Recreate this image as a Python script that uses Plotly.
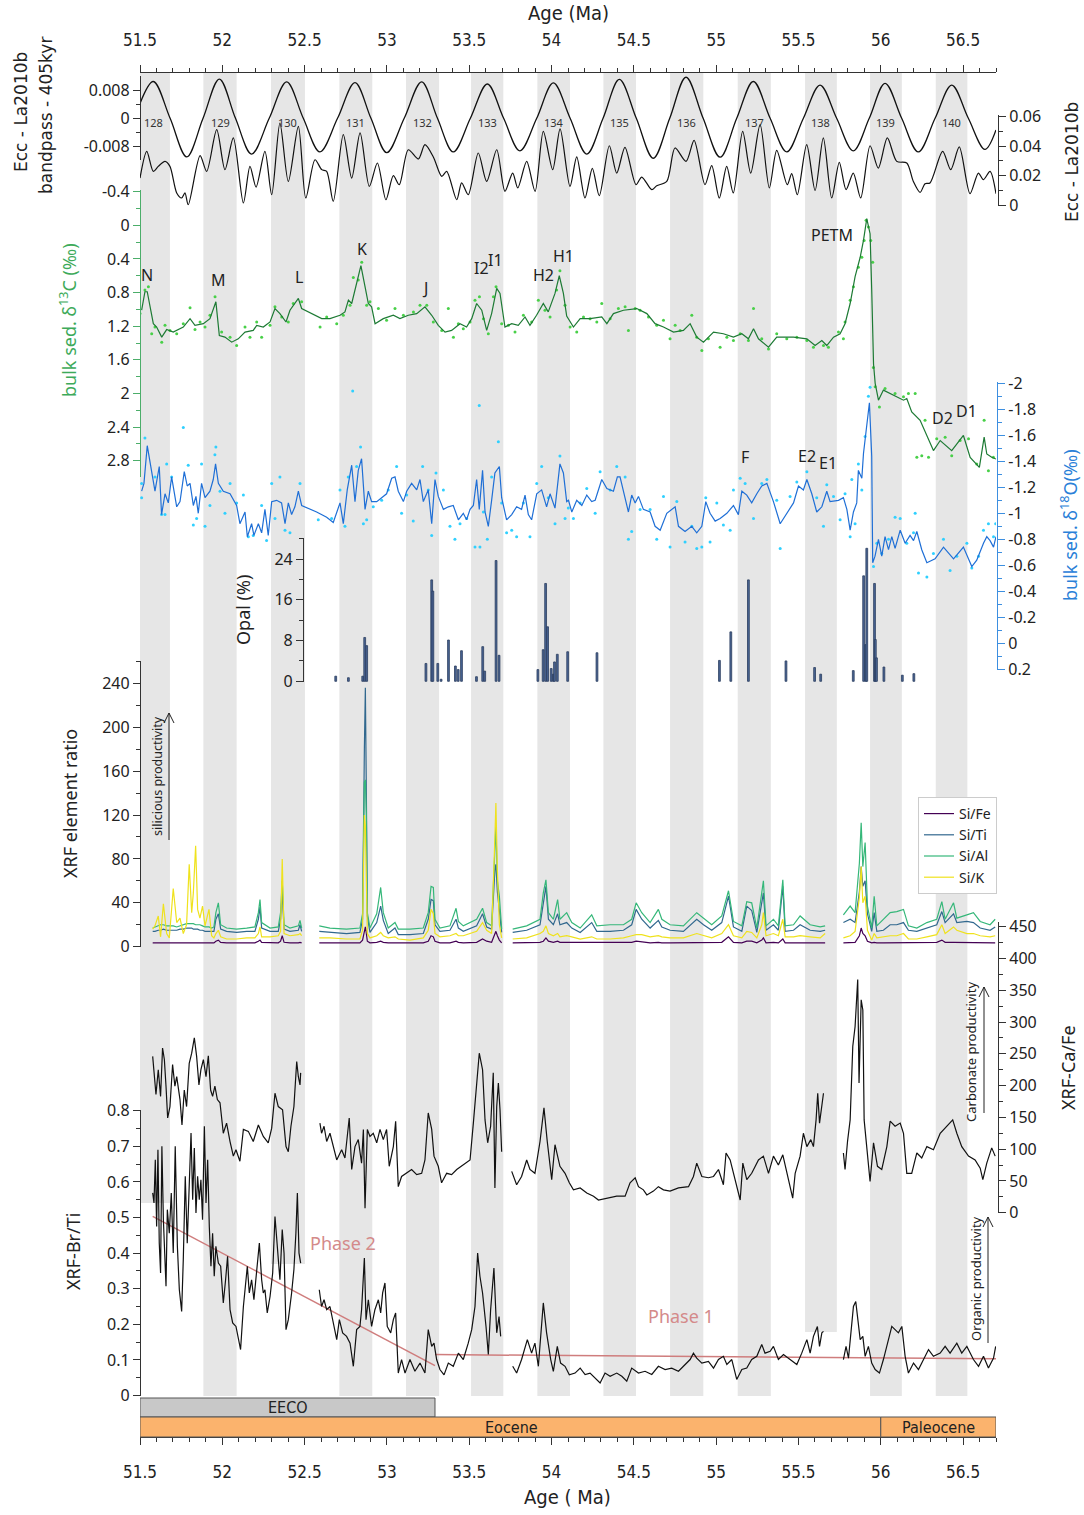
import plotly.graph_objects as go

W, H = 1084, 1515
SANS = "Noto Sans, Open Sans, DejaVu Sans, sans-serif"
NARROW = "Liberation Sans Narrow, Arial Narrow, DejaVu Sans Condensed, Roboto Condensed, Roboto, sans-serif"
WIDE = "DejaVu Sans, Verdana, sans-serif"

# ------------------------------------------------------------------ data
age_ticks = [51.5, 52, 52.5, 53, 53.5, 54, 54.5, 55, 55.5, 56, 56.5]
tick_text = ["51.5", "52", "52.5", "53", "53.5", "54", "54.5", "55", "55.5", "56", "56.5"]
bandpass_ticks = [-0.008, 0, 0.008]
bandpass_text = ["-0.008", "0", "0.008"]
d13c_ticks = [-0.4, 0, 0.4, 0.8, 1.2, 1.6, 2.0, 2.4, 2.8]
d13c_text = ["-0.4", "0", "0.4", "0.8", "1.2", "1.6", "2", "2.4", "2.8"]
d18o_ticks = [-2.0, -1.8, -1.6, -1.4, -1.2, -1.0, -0.8, -0.6, -0.4, -0.2, 0.0, 0.2]
d18o_text = ["-2", "-1.8", "-1.6", "-1.4", "-1.2", "-1", "-0.8", "-0.6", "-0.4", "-0.2", "0", "0.2"]

cycle_numbers = list(range(128, 141))
band_start = [51.500, 51.885, 52.296, 52.711, 53.116, 53.511, 53.914, 54.315, 54.720, 55.131, 55.540, 55.935, 56.334]
band_end = [51.682, 52.087, 52.502, 52.911, 53.317, 53.707, 54.112, 54.513, 54.922, 55.332, 55.733, 56.128, 56.526]

bandpass = [(51.500, 0.0042), (51.581, 0.0104), (51.683, 0.0), (51.784, -0.0109), (51.883, 0.0),
            (51.982, 0.0111), (52.080, 0.0), (52.178, -0.0101), (52.285, 0.0), (52.391, 0.0103),
            (52.492, 0.0), (52.593, -0.0095), (52.700, 0.0), (52.806, 0.0101), (52.903, 0.0),
            (52.999, -0.0097), (53.105, 0.0), (53.211, 0.0103), (53.307, 0.0), (53.403, -0.0095),
            (53.507, 0.0), (53.610, 0.0097), (53.709, 0.0), (53.808, -0.0092), (53.910, 0.0),
            (54.011, 0.0100), (54.113, 0.0), (54.214, -0.0101), (54.313, 0.0), (54.412, 0.0110),
            (54.515, 0.0), (54.618, -0.0113), (54.718, 0.0), (54.817, 0.0116), (54.921, 0.0),
            (55.024, -0.0110), (55.125, 0.0), (55.226, 0.0104), (55.328, 0.0), (55.429, -0.0095),
            (55.530, 0.0), (55.631, 0.0094), (55.732, 0.0), (55.833, -0.0092), (55.930, 0.0),
            (56.026, 0.0099), (56.127, 0.0), (56.228, -0.0095), (56.330, 0.0), (56.431, 0.0094),
            (56.532, 0.0), (56.633, -0.0088), (56.700, -0.0033)]

ecc = [(51.500, 0.0184), (51.541, 0.0365), (51.581, 0.0229), (51.611, 0.0263), (51.652, 0.0297),
       (51.682, 0.0263), (51.723, 0.0083), (51.753, 0.0049), (51.773, 0.0083), (51.793, 0.0003),
       (51.865, 0.0336), (51.905, 0.0229), (51.966, 0.0512), (52.016, 0.0241), (52.067, 0.0456),
       (52.128, 0.0015), (52.168, 0.0263), (52.205, 0.0123), (52.259, 0.0365), (52.300, 0.0071),
       (52.350, 0.0557), (52.401, 0.0161), (52.462, 0.0534), (52.507, 0.0049), (52.563, 0.0308),
       (52.604, 0.0241), (52.634, 0.0229), (52.674, 0.0026), (52.735, 0.0478), (52.786, 0.0184),
       (52.837, 0.0490), (52.893, 0.0127), (52.942, 0.0286), (52.994, 0.0037), (53.039, 0.0200),
       (53.075, 0.0139), (53.130, 0.0376), (53.191, 0.0313), (53.231, 0.0410), (53.282, 0.0327),
       (53.333, 0.0195), (53.363, 0.0229), (53.424, 0.0037), (53.454, 0.0151), (53.494, 0.0071),
       (53.555, 0.0354), (53.606, 0.0161), (53.667, 0.0376), (53.717, 0.0094), (53.764, 0.0218),
       (53.795, 0.0117), (53.849, 0.0297), (53.900, 0.0094), (53.950, 0.0500), (54.007, 0.0241),
       (54.052, 0.0517), (54.112, 0.0127), (54.153, 0.0327), (54.203, 0.0049), (54.248, 0.0250),
       (54.290, 0.0064), (54.351, 0.0403), (54.396, 0.0218), (54.446, 0.0392), (54.513, 0.0139),
       (54.548, 0.0191), (54.609, 0.0105), (54.639, 0.0132), (54.700, 0.0161), (54.750, 0.0388),
       (54.817, 0.0297), (54.866, 0.0439), (54.932, 0.0139), (54.973, 0.0268), (55.019, 0.0049),
       (55.064, 0.0263), (55.104, 0.0083), (55.161, 0.0500), (55.210, 0.0218), (55.267, 0.0546),
       (55.323, 0.0117), (55.368, 0.0372), (55.432, 0.0139), (55.459, 0.0214), (55.493, 0.0071),
       (55.550, 0.0410), (55.601, 0.0100), (55.651, 0.0456), (55.702, 0.0049), (55.748, 0.0290),
       (55.789, 0.0105), (55.833, 0.0218), (55.878, 0.0049), (55.935, 0.0403), (55.985, 0.0252),
       (56.040, 0.0456), (56.097, 0.0297), (56.158, 0.0286), (56.198, 0.0161), (56.239, 0.0087),
       (56.269, 0.0146), (56.299, 0.0151), (56.376, 0.0365), (56.425, 0.0241), (56.477, 0.0395),
       (56.542, 0.0078), (56.593, 0.0218), (56.623, 0.0173), (56.664, 0.0229), (56.700, 0.0078)]

d13c_line = [(51.510, 1.01), (51.530, 0.79), (51.544, 0.79), (51.581, 1.17), (51.601, 1.21), (51.632, 1.33),
             (51.662, 1.24), (51.702, 1.27), (51.763, 1.21), (51.804, 1.11), (51.834, 1.19), (51.885, 1.17),
             (51.925, 1.11), (51.961, 0.91), (51.982, 1.31), (52.016, 1.33), (52.057, 1.39), (52.097, 1.35),
             (52.138, 1.27), (52.188, 1.25), (52.209, 1.19), (52.249, 1.21), (52.290, 1.15), (52.320, 0.99),
             (52.350, 1.05), (52.387, 1.15), (52.411, 1.01), (52.462, 0.87), (52.482, 0.99), (52.604, 1.11),
             (52.654, 1.11), (52.715, 1.07), (52.745, 1.03), (52.766, 0.89), (52.786, 0.93), (52.816, 0.69),
             (52.842, 0.48), (52.867, 0.73), (52.887, 0.93), (52.907, 0.97), (52.928, 1.17), (52.978, 1.11),
             (53.039, 1.07), (53.079, 1.11), (53.130, 1.07), (53.181, 1.05), (53.231, 0.97), (53.272, 1.07),
             (53.312, 1.19), (53.353, 1.27), (53.393, 1.25), (53.444, 1.17), (53.484, 1.21), (53.515, 1.11),
             (53.545, 0.93), (53.576, 1.01), (53.606, 1.25), (53.636, 1.05), (53.667, 0.75), (53.687, 0.81),
             (53.717, 1.21), (53.758, 1.17), (53.798, 1.19), (53.839, 1.09), (53.869, 1.19), (53.909, 1.07),
             (53.950, 0.93), (53.980, 1.03), (54.021, 0.81), (54.047, 0.60), (54.072, 0.81), (54.092, 1.08),
             (54.133, 1.21), (54.174, 1.11), (54.234, 1.11), (54.305, 1.09), (54.336, 1.17), (54.376, 1.05),
             (54.437, 1.01), (54.518, 0.99), (54.579, 1.05), (54.629, 1.17), (54.680, 1.21), (54.741, 1.27),
             (54.801, 1.25), (54.842, 1.17), (54.882, 1.33), (54.923, 1.39), (54.984, 1.27), (55.044, 1.29),
             (55.105, 1.33), (55.156, 1.29), (55.196, 1.35), (55.227, 1.23), (55.257, 1.35), (55.318, 1.45),
             (55.368, 1.33), (55.470, 1.33), (55.551, 1.35), (55.601, 1.43), (55.642, 1.37), (55.672, 1.43),
             (55.713, 1.33), (55.753, 1.29), (55.783, 1.17), (55.814, 0.93), (55.844, 0.61), (55.875, 0.38),
             (55.895, 0.18), (55.915, -0.08), (55.935, 0.10), (55.945, 0.77), (55.956, 1.65), (55.966, 1.88),
             (55.986, 2.08), (56.016, 1.96), (56.057, 2.00), (56.097, 2.04), (56.138, 2.08), (56.158, 2.06),
             (56.188, 2.22), (56.239, 2.32), (56.280, 2.50), (56.320, 2.68), (56.361, 2.56), (56.431, 2.68),
             (56.502, 2.50), (56.543, 2.76), (56.599, 2.88), (56.628, 2.52), (56.644, 2.72), (56.674, 2.76),
             (56.700, 2.78)]

d13c_dots = [(51.500, 1.05), (51.530, 0.77), (51.551, 0.73), (51.571, 1.29), (51.591, 1.21), (51.632, 1.39),
             (51.652, 1.19), (51.682, 1.25), (51.723, 1.29), (51.763, 1.17), (51.804, 0.98), (51.834, 1.24),
             (51.865, 1.15), (51.895, 1.21), (51.925, 1.07), (51.956, 0.85), (51.996, 1.27), (52.047, 1.33),
             (52.087, 1.43), (52.138, 1.21), (52.168, 1.33), (52.209, 1.15), (52.239, 1.33), (52.290, 1.19),
             (52.320, 0.97), (52.361, 1.09), (52.401, 1.15), (52.431, 0.93), (52.482, 0.91), (52.594, 1.21),
             (52.634, 1.09), (52.695, 1.17), (52.735, 1.07), (52.776, 0.95), (52.796, 0.62), (52.826, 0.65),
             (52.847, 0.44), (52.877, 0.95), (52.897, 0.91), (52.948, 0.99), (52.998, 1.13), (53.049, 0.99),
             (53.100, 1.07), (53.161, 1.03), (53.201, 0.95), (53.242, 0.95), (53.282, 1.15), (53.333, 1.25),
             (53.373, 0.99), (53.404, 1.33), (53.434, 1.17), (53.464, 1.23), (53.505, 1.15), (53.535, 0.89),
             (53.562, 0.85), (53.586, 1.11), (53.616, 1.29), (53.647, 0.85), (53.663, 0.73), (53.697, 1.17),
             (53.738, 1.19), (53.778, 1.27), (53.829, 1.07), (53.879, 1.15), (53.920, 0.89), (53.960, 1.01),
             (53.991, 1.09), (54.031, 0.77), (54.051, 0.54), (54.082, 0.95), (54.113, 1.21), (54.153, 1.27),
             (54.194, 1.09), (54.234, 1.11), (54.275, 1.15), (54.305, 0.93), (54.356, 1.11), (54.406, 0.99),
             (54.447, 0.97), (54.467, 1.25), (54.508, 0.99), (54.538, 1.01), (54.589, 1.09), (54.639, 1.19),
             (54.680, 1.13), (54.720, 1.35), (54.751, 1.19), (54.781, 1.25), (54.852, 1.07), (54.882, 1.33),
             (54.913, 1.49), (54.953, 1.35), (55.024, 1.45), (55.065, 1.33), (55.105, 1.37), (55.146, 1.29),
             (55.196, 1.37), (55.227, 0.99), (55.277, 1.35), (55.318, 1.47), (55.368, 1.29), (55.429, 1.35),
             (55.490, 1.33), (55.551, 1.37), (55.591, 1.45), (55.652, 1.43), (55.682, 1.45), (55.743, 1.27),
             (55.773, 1.35), (55.783, 1.15), (55.814, 0.89), (55.834, 0.73), (55.864, 0.50), (55.885, 0.38),
             (55.899, 0.18), (55.911, -0.06), (55.925, 0.02), (55.939, 0.18), (55.951, 0.44), (55.955, 1.69),
             (55.966, 1.92), (55.992, 2.16), (56.026, 1.94), (56.087, 2.00), (56.138, 2.04), (56.168, 2.00),
             (56.209, 2.00), (56.219, 2.76), (56.249, 2.74), (56.269, 2.32), (56.290, 2.76), (56.340, 2.54),
             (56.391, 2.52), (56.431, 2.74), (56.482, 2.56), (56.533, 2.54), (56.583, 2.84), (56.628, 2.32),
             (56.654, 2.92), (56.684, 2.76)]

d18o_line = [(51.510, -1.17), (51.524, -1.23), (51.544, -1.52), (51.571, -1.31), (51.591, -1.17), (51.617, -1.36),
             (51.631, -0.99), (51.652, -1.15), (51.672, -1.08), (51.692, -1.28), (51.723, -1.05), (51.743, -1.09),
             (51.769, -1.32), (51.787, -1.21), (51.804, -1.23), (51.824, -1.06), (51.840, -1.13), (51.854, -1.00),
             (51.874, -1.23), (51.895, -1.12), (51.925, -1.17), (51.945, -1.26), (51.959, -1.38), (51.976, -1.23),
             (52.006, -1.17), (52.047, -1.15), (52.087, -1.06), (52.107, -0.92), (52.138, -1.01), (52.152, -0.82),
             (52.178, -0.92), (52.192, -0.83), (52.219, -0.92), (52.239, -0.85), (52.259, -1.03), (52.279, -0.83),
             (52.300, -1.09), (52.330, -1.10), (52.360, -1.08), (52.381, -0.92), (52.401, -1.08), (52.421, -0.99),
             (52.441, -1.05), (52.462, -1.17), (52.482, -1.06), (52.573, -1.01), (52.634, -0.97), (52.674, -0.93),
             (52.715, -1.08), (52.735, -0.92), (52.759, -1.18), (52.786, -1.37), (52.806, -1.09), (52.826, -1.33),
             (52.846, -1.42), (52.867, -1.03), (52.887, -1.17), (52.907, -1.09), (52.938, -1.09), (52.968, -1.12),
             (52.998, -1.15), (53.029, -1.27), (53.049, -1.28), (53.069, -1.17), (53.100, -1.09), (53.120, -1.17),
             (53.150, -1.23), (53.181, -1.18), (53.201, -1.26), (53.221, -1.09), (53.251, -1.18), (53.272, -0.92),
             (53.292, -1.26), (53.312, -1.13), (53.343, -1.03), (53.373, -1.05), (53.403, -1.06), (53.434, -0.95),
             (53.464, -1.00), (53.484, -0.95), (53.505, -1.03), (53.525, -1.06), (53.545, -1.26), (53.561, -1.03),
             (53.581, -1.33), (53.596, -1.01), (53.616, -0.90), (53.636, -1.10), (53.656, -1.31), (53.683, -1.36),
             (53.697, -1.12), (53.727, -0.95), (53.758, -0.99), (53.788, -1.05), (53.818, -1.03), (53.839, -1.14),
             (53.859, -0.99), (53.879, -0.95), (53.910, -1.15), (53.940, -1.18), (53.970, -1.05), (53.991, -1.15),
             (54.021, -1.04), (54.051, -1.38), (54.072, -1.31), (54.092, -1.09), (54.103, -1.10), (54.123, -1.01),
             (54.153, -1.10), (54.184, -1.06), (54.214, -1.14), (54.244, -1.09), (54.265, -1.10), (54.305, -1.26),
             (54.336, -1.19), (54.376, -1.17), (54.400, -1.28), (54.416, -1.28), (54.437, -1.17), (54.467, -1.01),
             (54.487, -1.14), (54.508, -1.08), (54.528, -1.13), (54.558, -1.03), (54.599, -1.01), (54.629, -0.90),
             (54.660, -0.87), (54.700, -1.00), (54.751, -1.05), (54.771, -0.90), (54.811, -0.86), (54.852, -0.90),
             (54.882, -0.85), (54.913, -0.90), (54.937, -1.09), (54.963, -1.00), (54.994, -0.94), (55.024, -0.96),
             (55.065, -1.00), (55.105, -1.06), (55.135, -0.99), (55.156, -1.17), (55.186, -1.14), (55.216, -1.08),
             (55.247, -1.15), (55.277, -1.21), (55.308, -1.23), (55.348, -1.09), (55.389, -0.92), (55.429, -1.00),
             (55.470, -1.08), (55.500, -1.21), (55.530, -1.18), (55.551, -1.26), (55.581, -1.15), (55.611, -1.01),
             (55.642, -1.05), (55.672, -1.17), (55.692, -1.09), (55.743, -1.10), (55.773, -1.12), (55.794, -1.03),
             (55.814, -0.87), (55.834, -1.01), (55.854, -1.08), (55.864, -1.33), (55.885, -1.27), (55.895, -1.46),
             (55.915, -1.67), (55.931, -1.85), (55.945, -1.44), (55.951, -0.62), (55.965, -0.67), (55.986, -0.80),
             (56.006, -0.67), (56.026, -0.82), (56.047, -0.72), (56.067, -0.82), (56.087, -0.73), (56.118, -0.87),
             (56.148, -0.77), (56.178, -0.83), (56.199, -0.79), (56.219, -0.86), (56.249, -0.72), (56.280, -0.62),
             (56.330, -0.65), (56.381, -0.74), (56.442, -0.65), (56.502, -0.74), (56.553, -0.59), (56.583, -0.64),
             (56.624, -0.77), (56.644, -0.82), (56.664, -0.79), (56.685, -0.74), (56.700, -0.82)]

d18o_dots = [(51.510, -1.23), (51.510, -1.12), (51.530, -1.58), (51.591, -1.28), (51.631, -0.99), (51.652, -0.99),
             (51.662, -1.38), (51.692, -1.28), (51.763, -1.66), (51.793, -1.37), (51.824, -0.91), (51.844, -0.96),
             (51.874, -1.38), (51.895, -0.90), (51.925, -1.06), (51.955, -1.45), (51.961, -1.51), (51.986, -1.17),
             (52.016, -1.00), (52.047, -1.23), (52.087, -1.08), (52.128, -1.14), (52.158, -0.82), (52.188, -0.83),
             (52.239, -1.06), (52.269, -0.79), (52.300, -1.23), (52.320, -0.96), (52.350, -1.28), (52.381, -0.87),
             (52.411, -0.85), (52.472, -1.23), (52.583, -0.95), (52.664, -0.96), (52.715, -1.18), (52.745, -0.90),
             (52.765, -1.28), (52.792, -1.94), (52.816, -1.36), (52.840, -1.51), (52.857, -0.92), (52.877, -0.95),
             (52.917, -1.05), (52.968, -1.10), (53.008, -1.18), (53.059, -1.36), (53.089, -1.00), (53.120, -1.14),
             (53.160, -0.94), (53.217, -1.36), (53.251, -1.18), (53.272, -0.83), (53.298, -1.31), (53.343, -1.18),
             (53.383, -0.90), (53.413, -0.80), (53.444, -0.92), (53.484, -0.96), (53.535, -0.74), (53.561, -1.83),
             (53.565, -0.74), (53.586, -1.01), (53.610, -0.80), (53.636, -1.28), (53.677, -1.55), (53.697, -1.08),
             (53.727, -0.85), (53.758, -0.87), (53.788, -0.82), (53.829, -1.08), (53.869, -0.82), (53.910, -1.23),
             (53.940, -1.36), (53.980, -1.12), (54.021, -0.92), (54.051, -1.44), (54.082, -0.96), (54.102, -1.04),
             (54.133, -0.96), (54.174, -1.08), (54.214, -1.19), (54.265, -1.00), (54.295, -1.32), (54.356, -1.18),
             (54.396, -1.36), (54.447, -1.28), (54.467, -0.80), (54.487, -0.86), (54.538, -1.03), (54.599, -1.03),
             (54.639, -0.80), (54.680, -1.13), (54.720, -0.74), (54.761, -1.09), (54.811, -0.78), (54.852, -0.90),
             (54.882, -0.73), (54.913, -0.74), (54.937, -1.12), (54.963, -0.78), (55.004, -1.08), (55.044, -0.91),
             (55.085, -0.87), (55.105, -1.18), (55.146, -1.27), (55.176, -1.23), (55.227, -0.96), (55.277, -1.23),
             (55.308, -1.26), (55.368, -1.10), (55.389, -0.73), (55.449, -1.13), (55.490, -1.24), (55.551, -1.32),
             (55.611, -1.12), (55.652, -0.90), (55.672, -1.22), (55.713, -1.13), (55.753, -0.95), (55.783, -1.15),
             (55.814, -0.82), (55.824, -1.26), (55.844, -0.92), (55.864, -1.38), (55.885, -1.18), (55.905, -1.59),
             (55.925, -1.90), (55.935, -1.97), (55.956, -0.59), (55.976, -0.77), (56.006, -0.69), (56.047, -0.80),
             (56.087, -0.97), (56.118, -0.96), (56.158, -0.77), (56.199, -0.85), (56.209, -1.00), (56.229, -0.54),
             (56.280, -0.51), (56.320, -0.69), (56.381, -0.80), (56.421, -0.56), (56.462, -0.67), (56.523, -0.77),
             (56.553, -0.58), (56.594, -0.67), (56.624, -0.87), (56.654, -0.92), (56.685, -0.82), (56.698, -0.92)]

opal = [(52.689, 1.0), (52.766, 0.7), (52.853, 1.0), (52.865, 8.6), (52.877, 7.0), (53.237, 3.5),
        (53.272, 19.9), (53.279, 17.7), (53.309, 3.5), (53.329, 0.4), (53.374, 8.1), (53.416, 3.0),
        (53.433, 2.3), (53.453, 6.0), (53.544, 0.9), (53.582, 6.8), (53.594, 2.0), (53.663, 23.7),
        (53.681, 5.1), (53.917, 2.3), (53.949, 6.2), (53.964, 19.2), (53.976, 10.7), (53.998, 2.5),
        (54.011, 1.4), (54.018, 3.8), (54.035, 5.3), (54.098, 5.8), (54.276, 5.6), (55.020, 4.1),
        (55.089, 9.7), (55.196, 19.9), (55.424, 4.0), (55.598, 2.7), (55.635, 1.4), (55.833, 2.1),
        (55.896, 20.7), (55.908, 7.2), (55.915, 26.1), (55.962, 19.2), (55.967, 8.2), (55.974, 4.6),
        (56.019, 2.8), (56.131, 1.2), (56.201, 1.5)]

# XRF element ratios: (age, Si/Fe, Si/Ti, Si/Al, Si/K); None rows are core gaps
xrf = [(51.577, 3.5, 14, 17, 16), (51.591, 3.5, 14, 18, 19), (51.611, 3.5, 15, 19, 28), (51.625, 3.5, 15, 20, 9),
       (51.642, 3.5, 16, 20, 39), (51.662, 3.5, 15, 19, 12), (51.678, 3.5, 15, 19, 8), (51.702, 3.5, 15, 19, 53),
       (51.723, 3.5, 15, 18, 22), (51.743, 3.5, 16, 19, 26), (51.763, 3.5, 16, 20, 12), (51.783, 3.5, 17, 21, 20),
       (51.799, 3.5, 17, 21, 75), (51.814, 3.5, 17, 21, 31), (51.824, 3.5, 16, 21, 49), (51.838, 3.5, 16, 20, 92),
       (51.850, 3.5, 16, 20, 34), (51.864, 3.5, 15, 20, 26), (51.880, 3.5, 15, 19, 37), (51.895, 3.5, 14, 18, 19),
       (51.919, 3.5, 14, 18, 34), (51.935, 3.5, 14, 17, 10), (51.949, 3.5, 14, 18, 8), (51.961, 5, 25, 31, 12),
       (51.976, 6, 30, 40, 15), (51.990, 4, 16, 20, 9), (52.026, 3.5, 14, 17, 7), (52.087, 3.5, 13, 16, 7),
       (52.148, 3.5, 14, 17, 8), (52.198, 3.5, 14, 18, 8), (52.219, 5, 25, 31, 12), (52.229, 6, 36, 43, 18),
       (52.239, 4, 17, 22, 9), (52.290, 3.5, 14, 17, 9), (52.340, 3.5, 14, 18, 10), (52.354, 5, 25, 31, 14),
       (52.364, 10, 50, 60, 80), (52.375, 4, 16, 20, 12), (52.411, 3.5, 14, 17, 10), (52.462, 3.5, 15, 19, 11),
       (52.472, 4, 20, 24, 12), (52.482, 3.5, 14, 17, 10),
       None,
       (52.589, 3.5, 14, 19, 8), (52.654, 3.5, 13, 17, 8), (52.755, 3.5, 12, 16, 7), (52.836, 3.5, 13, 17, 7),
       (52.852, 6, 25, 30, 15), (52.863, 15, 180, 150, 120), (52.869, 18, 236, 152, 110), (52.875, 12, 140, 120, 60),
       (52.881, 5, 28, 31, 12), (52.897, 3.5, 13, 17, 8), (52.938, 4, 22, 30, 10), (52.962, 5, 37, 54, 13),
       (52.978, 4, 24, 31, 10), (53.008, 3.5, 12, 17, 8), (53.049, 3.5, 17, 22, 9), (53.069, 3.5, 11, 16, 7),
       (53.140, 3.5, 11, 16, 6), (53.221, 3.5, 12, 17, 8), (53.251, 5, 25, 31, 15), (53.268, 10, 43, 55, 34),
       (53.282, 9, 42, 54, 30), (53.292, 5, 20, 25, 12), (53.322, 3.5, 14, 17, 9), (53.383, 3.5, 15, 19, 10),
       (53.420, 5, 25, 35, 12), (53.434, 4, 17, 23, 10), (53.464, 3.5, 14, 19, 10), (53.545, 4, 19, 25, 14),
       (53.581, 7, 30, 35, 22), (53.606, 5, 18, 22, 15), (53.636, 4, 16, 19, 12), (53.656, 12, 70, 98, 100),
       (53.662, 14, 75, 110, 131), (53.671, 10, 50, 60, 70), (53.683, 6, 35, 46, 20), (53.697, 3.5, 13, 16, 8),
       None,
       (53.764, 3.5, 13, 16, 7), (53.849, 3.5, 15, 19, 8), (53.930, 4, 20, 25, 12), (53.950, 5, 40, 49, 14),
       (53.966, 8, 55, 61, 19), (53.981, 5, 25, 31, 12), (54.011, 4, 20, 25, 10), (54.037, 5, 30, 43, 12),
       (54.051, 4, 20, 25, 9), (54.092, 4, 22, 31, 10), (54.123, 4, 17, 22, 9), (54.174, 3.5, 13, 17, 7),
       (54.244, 4, 22, 29, 9), (54.275, 3.5, 14, 19, 7), (54.356, 3.5, 14, 20, 7), (54.437, 3.5, 15, 20, 8),
       (54.487, 4, 20, 25, 10), (54.514, 5, 34, 40, 11), (54.548, 4.5, 25, 31, 11), (54.599, 3.5, 17, 22, 9),
       (54.649, 4, 24, 34, 10), (54.670, 3.5, 18, 25, 9), (54.720, 3.5, 15, 20, 8), (54.801, 3.5, 14, 19, 8),
       (54.882, 4, 25, 31, 12), (54.923, 4, 20, 26, 10), (54.973, 3.5, 15, 20, 8), (55.034, 4, 22, 28, 12),
       (55.075, 9, 46, 51, 20), (55.105, 4, 18, 23, 10), (55.156, 3.5, 14, 19, 8), (55.186, 5, 37, 41, 14),
       (55.216, 5, 33, 40, 13), (55.247, 3.5, 13, 17, 8), (55.277, 6, 40, 49, 20), (55.287, 8, 49, 60, 31),
       (55.303, 3.5, 15, 19, 10), (55.348, 4, 20, 25, 12), (55.378, 3.5, 15, 19, 10), (55.405, 7, 55, 61, 25),
       (55.419, 3.5, 14, 19, 9), (55.470, 3.5, 15, 20, 9), (55.510, 4, 20, 28, 10), (55.571, 3.5, 15, 20, 9),
       (55.632, 3.5, 14, 18, 8), (55.662, 3.5, 15, 19, 12),
       None,
       (55.773, 3.5, 22, 29, 8), (55.814, 4, 25, 37, 10), (55.844, 4, 22, 31, 14), (55.870, 10, 50, 76, 45),
       (55.881, 17, 73, 113, 73), (55.891, 12, 55, 73, 40), (55.905, 10, 60, 95, 46), (55.919, 5, 30, 37, 15),
       (55.945, 3.5, 14, 17, 6), (55.960, 4, 31, 46, 12), (55.976, 3.5, 14, 19, 8), (56.016, 3.5, 15, 25, 9),
       (56.057, 3.5, 20, 31, 10), (56.097, 3.5, 20, 32, 10), (56.138, 4, 22, 34, 12), (56.168, 3.5, 15, 19, 7),
       (56.219, 3.5, 14, 17, 7), (56.280, 3.5, 17, 22, 9), (56.340, 4, 20, 25, 11), (56.371, 6, 32, 41, 20),
       (56.391, 4, 22, 25, 12), (56.442, 4, 30, 40, 18), (56.462, 4, 22, 26, 15), (56.523, 4, 23, 29, 12),
       (56.563, 4, 22, 31, 12), (56.604, 3.5, 17, 23, 10), (56.664, 3.5, 15, 20, 9), (56.695, 3.5, 18, 25, 10)]

cafe = [(51.577, 246), (51.585, 225), (51.597, 186), (51.611, 225), (51.625, 183), (51.637, 259), (51.648, 241),
        (51.658, 199), (51.668, 149), (51.682, 167), (51.698, 233), (51.712, 199), (51.723, 214), (51.743, 178),
        (51.755, 138), (51.769, 193), (51.783, 167), (51.799, 235), (51.814, 251), (51.830, 275), (51.844, 246),
        (51.858, 201), (51.870, 225), (51.885, 241), (51.901, 214), (51.915, 247), (51.929, 193), (51.941, 183),
        (51.955, 199), (51.970, 178), (51.986, 173), (52.006, 125), (52.026, 141), (52.047, 112), (52.067, 89),
        (52.083, 99), (52.107, 81), (52.128, 131), (52.158, 128), (52.188, 112), (52.219, 138), (52.249, 120),
        (52.279, 110), (52.300, 133), (52.320, 188), (52.340, 167), (52.366, 162), (52.387, 104), (52.401, 96),
        (52.417, 136), (52.435, 167), (52.452, 238), (52.462, 214), (52.472, 201), (52.476, 220),
        None,
        (52.593, 141), (52.603, 125), (52.618, 136), (52.634, 112), (52.654, 125), (52.674, 104), (52.695, 83),
        (52.725, 99), (52.745, 86), (52.771, 149), (52.786, 68), (52.806, 104), (52.826, 115), (52.846, 78),
        (52.857, 131), (52.867, 7), (52.881, 131), (52.897, 120), (52.917, 125), (52.938, 110), (52.958, 131),
        (52.978, 115), (52.998, 131), (53.014, 73), (53.039, 104), (53.053, 144), (53.069, 41), (53.089, 57),
        (53.120, 62), (53.150, 68), (53.181, 60), (53.211, 62), (53.231, 83), (53.251, 157), (53.272, 131),
        (53.286, 89), (53.312, 73), (53.332, 47), (53.363, 62), (53.393, 60), (53.424, 68), (53.464, 75),
        (53.505, 83), (53.525, 141), (53.545, 204), (53.561, 251), (53.581, 225), (53.596, 146), (53.612, 110),
        (53.630, 136), (53.646, 220), (53.656, 39), (53.667, 167), (53.677, 204), (53.687, 162), (53.697, 96),
        None,
        (53.758, 65), (53.788, 44), (53.818, 57), (53.849, 83), (53.869, 68), (53.899, 62), (53.930, 112),
        (53.954, 165), (53.974, 112), (54.001, 52), (54.021, 107), (54.051, 73), (54.082, 62), (54.108, 47),
        (54.133, 36), (54.174, 39), (54.214, 31), (54.255, 26), (54.285, 20), (54.336, 23), (54.396, 26),
        (54.447, 26), (54.477, 47), (54.508, 55), (54.528, 41), (54.558, 36), (54.579, 28), (54.619, 34),
        (54.649, 41), (54.680, 36), (54.720, 34), (54.771, 39), (54.832, 41), (54.862, 57), (54.882, 78),
        (54.913, 57), (54.953, 55), (54.984, 57), (55.014, 68), (55.044, 44), (55.060, 94), (55.085, 83),
        (55.115, 52), (55.146, 20), (55.162, 78), (55.186, 52), (55.216, 62), (55.257, 83), (55.287, 89),
        (55.318, 62), (55.348, 89), (55.378, 75), (55.405, 91), (55.429, 62), (55.465, 23), (55.480, 62),
        (55.510, 89), (55.530, 125), (55.551, 104), (55.575, 115), (55.591, 104), (55.607, 146), (55.617, 188),
        (55.628, 141), (55.638, 159), (55.652, 188),
        None,
        (55.773, 94), (55.783, 68), (55.798, 112), (55.814, 146), (55.830, 262), (55.844, 293), (55.860, 367),
        (55.868, 204), (55.881, 335), (55.891, 319), (55.899, 146), (55.915, 104), (55.935, 49), (55.956, 110),
        (55.980, 73), (56.006, 68), (56.037, 104), (56.057, 144), (56.087, 136), (56.118, 141), (56.138, 125),
        (56.158, 62), (56.188, 62), (56.219, 94), (56.249, 86), (56.280, 104), (56.320, 99), (56.361, 125),
        (56.401, 136), (56.437, 146), (56.462, 125), (56.492, 104), (56.533, 89), (56.573, 83), (56.604, 70),
        (56.620, 52), (56.644, 78), (56.674, 102), (56.695, 89)]

brti = [(51.577, 0.569), (51.585, 0.541), (51.593, 0.662), (51.601, 0.475), (51.609, 0.690), (51.617, 0.428),
        (51.625, 0.344), (51.633, 0.700), (51.642, 0.494), (51.650, 0.400), (51.658, 0.307), (51.666, 0.522),
        (51.678, 0.456), (51.690, 0.569), (51.702, 0.400), (51.714, 0.700), (51.727, 0.419), (51.739, 0.297),
        (51.753, 0.236), (51.763, 0.382), (51.775, 0.616), (51.787, 0.428), (51.799, 0.587), (51.810, 0.737),
        (51.820, 0.550), (51.830, 0.695), (51.840, 0.513), (51.850, 0.616), (51.860, 0.550), (51.870, 0.606),
        (51.880, 0.494), (51.891, 0.756), (51.901, 0.541), (51.911, 0.662), (51.921, 0.475), (51.931, 0.363),
        (51.941, 0.456), (51.951, 0.335), (51.961, 0.419), (51.976, 0.372), (51.990, 0.363), (52.006, 0.260),
        (52.020, 0.325), (52.032, 0.391), (52.047, 0.241), (52.063, 0.204), (52.083, 0.194), (52.097, 0.166),
        (52.111, 0.129), (52.128, 0.250), (52.144, 0.316), (52.152, 0.363), (52.164, 0.288), (52.178, 0.325),
        (52.192, 0.269), (52.209, 0.344), (52.225, 0.428), (52.239, 0.325), (52.249, 0.288), (52.259, 0.297),
        (52.273, 0.232), (52.290, 0.278), (52.306, 0.344), (52.320, 0.503), (52.334, 0.410), (52.350, 0.325),
        (52.364, 0.466), (52.375, 0.400), (52.387, 0.185), (52.401, 0.213), (52.421, 0.288), (52.435, 0.354),
        (52.447, 0.456), (52.456, 0.569), (52.466, 0.400), (52.476, 0.372),
        None,
        (52.589, 0.297), (52.603, 0.250), (52.618, 0.269), (52.634, 0.241), (52.654, 0.250), (52.674, 0.204),
        (52.695, 0.157), (52.711, 0.213), (52.731, 0.176), (52.755, 0.166), (52.776, 0.147), (52.796, 0.082),
        (52.816, 0.185), (52.836, 0.194), (52.846, 0.241), (52.863, 0.386), (52.873, 0.213), (52.887, 0.269),
        (52.907, 0.194), (52.927, 0.241), (52.948, 0.269), (52.962, 0.232), (52.974, 0.288), (52.988, 0.316),
        (53.002, 0.194), (53.023, 0.176), (53.039, 0.213), (53.053, 0.232), (53.069, 0.063), (53.089, 0.101),
        (53.110, 0.063), (53.140, 0.101), (53.170, 0.068), (53.201, 0.091), (53.231, 0.063), (53.251, 0.185),
        (53.272, 0.138), (53.286, 0.147), (53.302, 0.101), (53.322, 0.073), (53.347, 0.058), (53.373, 0.091),
        (53.403, 0.082), (53.434, 0.119), (53.464, 0.101), (53.494, 0.147), (53.515, 0.185), (53.535, 0.250),
        (53.551, 0.400), (53.565, 0.335), (53.581, 0.288), (53.602, 0.194), (53.616, 0.115), (53.630, 0.241),
        (53.650, 0.358), (53.667, 0.176), (53.681, 0.222), (53.691, 0.166),
        None,
        (53.764, 0.082), (53.788, 0.063), (53.818, 0.101), (53.853, 0.157), (53.879, 0.119), (53.899, 0.147),
        (53.920, 0.082), (53.950, 0.260), (53.970, 0.176), (53.995, 0.101), (54.011, 0.068), (54.035, 0.138),
        (54.055, 0.091), (54.082, 0.082), (54.108, 0.058), (54.143, 0.063), (54.174, 0.077), (54.204, 0.059),
        (54.234, 0.063), (54.265, 0.049), (54.295, 0.035), (54.325, 0.063), (54.356, 0.054), (54.396, 0.063),
        (54.427, 0.054), (54.457, 0.040), (54.487, 0.077), (54.528, 0.063), (54.568, 0.068), (54.609, 0.059),
        (54.649, 0.082), (54.690, 0.073), (54.730, 0.077), (54.771, 0.068), (54.811, 0.087), (54.842, 0.101),
        (54.862, 0.119), (54.882, 0.105), (54.913, 0.091), (54.953, 0.096), (54.984, 0.077), (55.014, 0.101),
        (55.044, 0.110), (55.065, 0.087), (55.095, 0.101), (55.125, 0.045), (55.156, 0.073), (55.186, 0.077),
        (55.216, 0.101), (55.247, 0.110), (55.277, 0.143), (55.297, 0.119), (55.328, 0.124), (55.348, 0.138),
        (55.378, 0.101), (55.409, 0.115), (55.449, 0.101), (55.490, 0.087), (55.520, 0.119), (55.551, 0.157),
        (55.571, 0.119), (55.591, 0.166), (55.615, 0.194), (55.628, 0.138), (55.642, 0.176), (55.652, 0.180),
        None,
        (55.773, 0.101), (55.789, 0.138), (55.804, 0.105), (55.818, 0.176), (55.834, 0.250), (55.848, 0.264),
        (55.860, 0.213), (55.875, 0.157), (55.891, 0.166), (55.905, 0.110), (55.925, 0.138), (55.945, 0.091),
        (55.966, 0.073), (55.992, 0.063), (56.016, 0.101), (56.047, 0.157), (56.067, 0.194), (56.087, 0.185),
        (56.107, 0.176), (56.128, 0.194), (56.148, 0.110), (56.168, 0.063), (56.199, 0.091), (56.229, 0.073),
        (56.259, 0.101), (56.290, 0.129), (56.320, 0.110), (56.361, 0.119), (56.391, 0.138), (56.421, 0.119),
        (56.462, 0.147), (56.492, 0.119), (56.523, 0.138), (56.563, 0.101), (56.594, 0.082), (56.624, 0.110),
        (56.654, 0.077), (56.685, 0.105), (56.698, 0.138)]

phase2_line = [(51.577, 0.503), (53.292, 0.084)]
phase1_line = [(53.292, 0.115), (56.700, 0.103)]

eeco_span = (51.5, 53.292)
eocene_span = (51.5, 56.0)
paleocene_span = (56.0, 56.7)


def col(rows, i):
    return [None if r is None else r[i] for r in rows]


# ------------------------------------------------------------------ layout helpers
def px(x):
    return x / W


def py(y):
    return 1 - y / H


def rng(v_a, y_a, v_b, y_b, y_top, y_bot):
    s = (v_b - v_a) / (y_b - y_a)
    return [v_a + s * (y_bot - y_a), v_a + s * (y_top - y_a)]


def yax(top, bot, cal, pos, side, dtick, minor, color="#333", tickvals=None, ticktext=None):
    ax = dict(domain=[py(bot), py(top)], range=rng(*cal, top, bot), anchor="free", position=px(pos),
              side=side, showline=True, linecolor=color, linewidth=1.2, ticks="outside", ticklen=7,
              tickwidth=1.2, tickcolor=color, tickmode="linear", tick0=0, dtick=dtick, automargin=False,
              minor=dict(ticks="outside", ticklen=4, tick0=0, dtick=minor, tickcolor=color, tickwidth=1),
              showgrid=False, zeroline=False, tickfont=dict(size=16, color="#222", family=SANS))
    if tickvals is not None:
        ax.update(tickmode="array", tickvals=tickvals, ticktext=ticktext)
    return ax


fig = go.Figure()

# invisible trace so that the top age axis is drawn
fig.add_trace(go.Scatter(x=[band_start[0], paleocene_span[1]], y=[0, 0], xaxis="x2", yaxis="y", mode="lines",
                         line=dict(width=0, color="rgba(0,0,0,0)"), showlegend=False, hoverinfo="skip"))
# ecc
fig.add_trace(go.Scatter(x=col(bandpass, 0), y=col(bandpass, 1), mode="lines", yaxis="y",
                         line=dict(color="#111", width=1.3, shape="spline", smoothing=1.0), showlegend=False))
fig.add_trace(go.Scatter(x=col(ecc, 0), y=col(ecc, 1), mode="lines", yaxis="y2",
                         line=dict(color="#111", width=1.2, shape="spline", smoothing=0.8), showlegend=False))
# d13C
fig.add_trace(go.Scatter(x=col(d13c_dots, 0), y=col(d13c_dots, 1), mode="markers", yaxis="y3",
                         marker=dict(color="#48d048", size=3), showlegend=False))
fig.add_trace(go.Scatter(x=col(d13c_line, 0), y=col(d13c_line, 1), mode="lines", yaxis="y3",
                         line=dict(color="#1d7a34", width=1.2), showlegend=False))
# d18O
fig.add_trace(go.Scatter(x=col(d18o_dots, 0), y=col(d18o_dots, 1), mode="markers", yaxis="y4",
                         marker=dict(color="#2fd0ff", size=3), showlegend=False))
fig.add_trace(go.Scatter(x=col(d18o_line, 0), y=col(d18o_line, 1), mode="lines", yaxis="y4",
                         line=dict(color="#1f6fd6", width=1.2), showlegend=False))
# opal
fig.add_trace(go.Bar(x=col(opal, 0), y=col(opal, 1), yaxis="y5", width=0.011,
                     marker=dict(color="#4a6595", line=dict(color="#2b3d5e", width=0.8)), showlegend=False))
# XRF element ratios
for i, name, c in [(1, "Si/Fe", "#440154"), (2, "Si/Ti", "#31688e"), (3, "Si/Al", "#35b779"), (4, "Si/K", "#efe21d")]:
    fig.add_trace(go.Scatter(x=col(xrf, 0), y=col(xrf, i), mode="lines", yaxis="y6", name=name,
                             line=dict(color=c, width=1.2), connectgaps=False))
# Ca/Fe, Br/Ti
fig.add_trace(go.Scatter(x=col(cafe, 0), y=col(cafe, 1), mode="lines", yaxis="y7",
                         line=dict(color="#111", width=1.2), connectgaps=False, showlegend=False))
fig.add_trace(go.Scatter(x=col(phase2_line, 0), y=col(phase2_line, 1), mode="lines", yaxis="y8",
                         line=dict(color="#cf7d7d", width=1.5), showlegend=False))
fig.add_trace(go.Scatter(x=col(phase1_line, 0), y=col(phase1_line, 1), mode="lines", yaxis="y8",
                         line=dict(color="#cf7d7d", width=1.5), showlegend=False))
fig.add_trace(go.Scatter(x=col(brti, 0), y=col(brti, 1), mode="lines", yaxis="y8",
                         line=dict(color="#111", width=1.2), connectgaps=False, showlegend=False))

# ------------------------------------------------------------------ shapes
shapes = []
band_bottom = [1203, 1396, 1264, 1396, 1396, 1396, 1396, 1396, 1396, 1396, 1332, 1396, 1396]
for s, e, b in zip(band_start, band_end, band_bottom):
    shapes.append(dict(type="rect", xref="x", yref="paper", x0=s, x1=e, y0=py(b), y1=py(73),
                       fillcolor="#e6e6e6", line=dict(width=0), layer="below"))
shapes.append(dict(type="rect", xref="x", yref="paper", x0=eeco_span[0], x1=eeco_span[1], y0=py(1417), y1=py(1398),
                   fillcolor="#c8c8c8", line=dict(color="#555", width=1)))
shapes.append(dict(type="rect", xref="x", yref="paper", x0=eocene_span[0], x1=eocene_span[1], y0=py(1437), y1=py(1417),
                   fillcolor="#fbb36d", line=dict(color="#555", width=1)))
shapes.append(dict(type="rect", xref="x", yref="paper", x0=paleocene_span[0], x1=paleocene_span[1], y0=py(1437),
                   y1=py(1417), fillcolor="#fbb36d", line=dict(color="#555", width=1)))


def arrow(x, y_tail, y_head):
    return dict(type="path", xref="paper", yref="paper", line=dict(color="#222", width=1),
                path=f"M {px(x)},{py(y_tail)} L {px(x)},{py(y_head)} M {px(x - 5)},{py(y_head + 10)} "
                     f"L {px(x)},{py(y_head)} L {px(x + 5)},{py(y_head + 10)}")


shapes += [arrow(169, 840, 713), arrow(984, 1113, 987), arrow(988, 1343, 1217)]

# ------------------------------------------------------------------ annotations
ann = []


def label(text, x, y, size=16, color="#222", angle=0, family=SANS):
    ann.append(dict(text=text, x=px(x), y=py(y), xref="paper", yref="paper", showarrow=False,
                    font=dict(size=size, color=color, family=family), textangle=angle,
                    xanchor="center", yanchor="middle"))


label("Age (Ma)", 568, 13, 20, family=NARROW)
label("Age ( Ma)", 567, 1497, 20, family=NARROW)
label("Ecc - La2010b", 21, 112, 17, angle=-90, family=WIDE)
label("bandpass - 405kyr", 46, 116, 17, angle=-90, family=WIDE)
label("Ecc - La2010b", 1072, 162, 17, angle=-90, family=WIDE)
label("bulk sed. δ<sup>13</sup>C (‰)", 68, 320, 18, color="#3daa5a", angle=-90)
label("bulk sed. δ<sup>18</sup>O(‰)", 1069, 525, 18, color="#2a80d8", angle=-90)
label("Opal (%)", 243, 610, 18, angle=-90)
label("XRF element ratio", 70, 804, 18, angle=-90)
label("XRF-Ca/Fe", 1068, 1068, 18, angle=-90)
label("XRF-Br/Ti", 73, 1252, 18, angle=-90)
label("silicious productivity", 157, 776, 12.5, angle=-90)
label("Carbonate productivity", 971, 1052, 13, angle=-90)
label("Organic productivity", 976, 1279, 13, angle=-90)
label("Phase 2", 343, 1243, 18, color="#d48a8a")
label("Phase 1", 681, 1316, 18, color="#d48a8a")
label("EECO", 288, 1407, 16, family=NARROW)
label("Eocene", 511, 1427, 16, family=NARROW)
label("Paleocene", 938, 1427, 16, family=NARROW)

for n, s, e in zip(cycle_numbers, band_start, band_end):
    ann.append(dict(text=str(n), x=(s + e) / 2 if n != 128 else 51.585, y=py(113), xref="x", yref="paper",
                    showarrow=False, font=dict(size=11, color="#333", family=SANS)))

for t, x, y in [("N", 147, 275), ("M", 218, 280), ("L", 299, 277), ("K", 362, 249), ("J", 425, 288),
                ("I2", 481, 268), ("I1", 495, 260), ("H2", 543, 275), ("H1", 563, 256), ("PETM", 832, 235),
                ("F", 745, 457), ("E2", 807, 456), ("E1", 828, 463), ("D2", 942, 418), ("D1", 966, 411)]:
    label(t, x, y, 16)

# ------------------------------------------------------------------ axes
xa = dict(domain=[px(140), px(996)], range=[51.5, 56.7], showline=True, linecolor="#333", linewidth=1.2,
          ticks="outside", ticklen=7, tickwidth=1.2, tickcolor="#333", tickvals=age_ticks, ticktext=tick_text,
          minor=dict(ticks="outside", ticklen=4, dtick=0.1, tick0=51.5, tickcolor="#333"), automargin=False,
          showgrid=False, zeroline=False, tickfont=dict(size=17, color="#222", family=NARROW))

fig.update_layout(
    width=W, height=H, margin=dict(l=0, r=0, t=0, b=0, pad=0, autoexpand=False),
    paper_bgcolor="white", plot_bgcolor="rgba(0,0,0,0)",
    barmode="overlay", hovermode=False,
    xaxis=dict(xa, anchor="free", position=py(1437), side="bottom", ticklabelstandoff=12),
    xaxis2=dict(xa, anchor="free", position=py(72), side="top", overlaying="x", ticklabelstandoff=12),
    yaxis=yax(76, 160, (0.008, 90.0, -0.008, 146.6), 140, "left", 0.008, 0.004,
              tickvals=bandpass_ticks, ticktext=bandpass_text),
    yaxis2=yax(115, 205.5, (0.06, 116.7, 0.0, 205.2), 998, "right", 0.02, 0.01),
    yaxis3=yax(190, 477, (-0.4, 191.7, 2.8, 460.7), 140, "left", 0.4, 0.2, color="#4cae6a",
               tickvals=d13c_ticks, ticktext=d13c_text),
    yaxis4=yax(382, 670, (-2.0, 383.3, 0.2, 669.3), 997, "right", 0.2, 0.1, color="#3d8fe0",
               tickvals=d18o_ticks, ticktext=d18o_text),
    yaxis5=yax(538, 682, (24, 559.0, 0, 681.3), 303, "left", 8, 4),
    yaxis6=yax(661, 947, (240, 683.3, 0, 946.7), 140, "left", 40, 20),
    yaxis7=yax(922, 1213, (450, 926.7, 0, 1212.7), 998, "right", 50, 25),
    yaxis8=yax(1110, 1396, (0.8, 1110.7, 0.0, 1395.5), 140, "left", 0.1, 0.05),
    shapes=shapes, annotations=ann,
    showlegend=True,
    legend=dict(x=px(918), y=py(797), xanchor="left", yanchor="top", bgcolor="white",
                bordercolor="#cccccc", borderwidth=1, font=dict(size=14, color="#222", family=SANS),
                tracegroupgap=0, itemwidth=30),
)

fig.write_html("out.html", config={"displayModeBar": False})
